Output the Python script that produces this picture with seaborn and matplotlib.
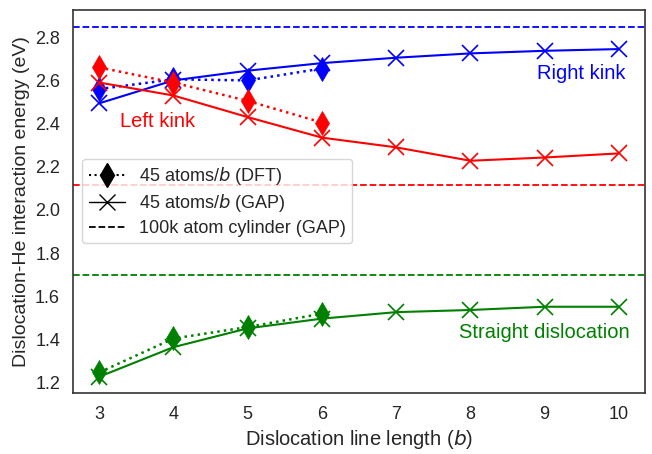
import numpy as np
import pandas as pd
import matplotlib
matplotlib.use("Agg")
import matplotlib.pyplot as plt
from matplotlib.lines import Line2D
import seaborn as sns

x_gap = [3, 4, 5, 6, 7, 8, 9, 10]
x_dft = [3, 4, 5, 6]

right_gap = [2.494, 2.60, 2.645, 2.68, 2.705, 2.725, 2.737, 2.745]
right_dft = [2.56, 2.605, 2.60, 2.655]
left_gap = [2.59, 2.53, 2.43, 2.335, 2.29, 2.228, 2.243, 2.262]
left_dft = [2.66, 2.59, 2.505, 2.405]
straight_gap = [1.228, 1.365, 1.452, 1.497, 1.527, 1.537, 1.552, 1.552]
straight_dft = [1.248, 1.405, 1.458, 1.52]

cyl_right = 2.846
cyl_left = 2.118
cyl_straight = 1.697

colors = {"right": "blue", "left": "red", "straight": "green"}

sns.set_theme(style="white")
plt.rcParams['font.family'] = ['Liberation Sans', 'DejaVu Sans']

fig, ax = plt.subplots(figsize=(6.52, 4.54), dpi=100)

series = [
    ("right", right_gap, right_dft, cyl_right),
    ("left", left_gap, left_dft, cyl_left),
    ("straight", straight_gap, straight_dft, cyl_straight),
]
for key, gap, dft, cyl in series:
    c = colors[key]
    sns.lineplot(x=x_gap, y=gap, ax=ax, color=c, marker="x", markersize=11,
                 markeredgewidth=1.2, markeredgecolor=c, linewidth=1.5, linestyle="-")
    sns.lineplot(x=x_dft, y=dft, ax=ax, color=c, marker="d", markersize=12,
                 markeredgewidth=0.5, markeredgecolor=c, linewidth=1.8, linestyle=":")
    ax.axhline(cyl, color=c, linestyle="--", linewidth=1.3)

ax.set_xlim(2.65, 10.35)
ax.set_ylim(1.154, 2.926)
ax.set_xticks([3, 4, 5, 6, 7, 8, 9, 10])
ax.set_yticks([1.2, 1.4, 1.6, 1.8, 2.0, 2.2, 2.4, 2.6, 2.8])
ax.tick_params(labelsize=13)

ax.set_xlabel("Dislocation line length ($b$)", fontsize=14.5)
ax.set_ylabel("Dislocation-He interaction energy (eV)", fontsize=14)

ax.text(3.79, 2.41, "Left kink", color="red", fontsize=14.5, ha="center", va="center")
ax.text(9.5, 2.633, "Right kink", color="blue", fontsize=14.5, ha="center", va="center")
ax.text(9.0, 1.432, "Straight dislocation", color="green", fontsize=14.5, ha="center", va="center")

handles = [
    Line2D([], [], color="black", linestyle=":", marker="d", markersize=12, linewidth=1.5),
    Line2D([], [], color="black", linestyle="-", marker="x", markersize=11, linewidth=1.0),
    Line2D([], [], color="black", linestyle="--", linewidth=1.3),
]
labels = ["45 atoms/$b$ (DFT)", "45 atoms/$b$ (GAP)", "100k atom cylinder (GAP)"]
ax.legend(handles, labels, loc="upper left", bbox_to_anchor=(0.0, 0.635),
          fontsize=13, framealpha=0.8, handlelength=2.0, borderpad=0.35,
          labelspacing=0.3)

for s in ax.spines.values():
    s.set_color("#333333")
    s.set_linewidth(1.2)

fig.subplots_adjust(left=0.1124, right=0.989, top=0.978, bottom=0.135)
fig.savefig("out.png", dpi=100)
